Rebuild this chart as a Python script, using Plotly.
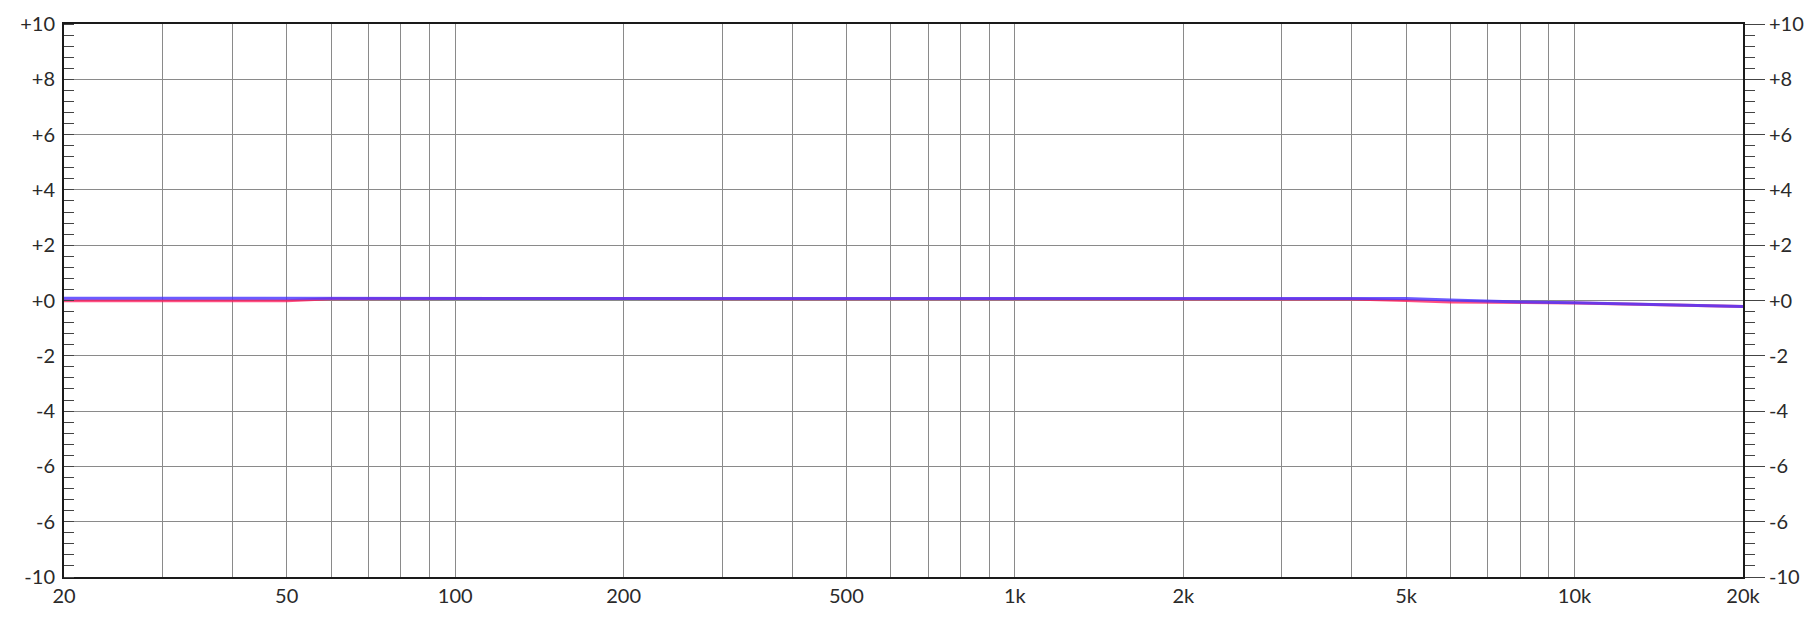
"""
Frequency response overlay: two measured channels on a log-frequency axis, +/-10 dB.
"""
import plotly.graph_objects as go

# --- data ---
freq_hz = [20, 30, 40, 50, 60, 70, 100, 200, 500, 1000, 2000, 4000, 5000, 6000, 7000, 8000, 10000, 15000, 20000]
red_db = [-0.01, -0.01, -0.01, -0.01, 0.06, 0.07, 0.07, 0.07, 0.07, 0.07, 0.07, 0.05, 0.0, -0.05, -0.06, -0.07, -0.09, -0.16, -0.22]
blue_db = [0.08, 0.08, 0.08, 0.08, 0.08, 0.08, 0.08, 0.08, 0.08, 0.08, 0.08, 0.08, 0.07, 0.02, -0.02, -0.05, -0.08, -0.16, -0.22]

grid_freqs = [20, 30, 40, 50, 60, 70, 80, 90, 100, 200, 300, 400, 500, 600, 700, 800, 900,
              1000, 2000, 3000, 4000, 5000, 6000, 7000, 8000, 9000, 10000, 20000]
freq_labels = {20: "20", 50: "50", 100: "100", 200: "200", 500: "500", 1000: "1k",
               2000: "2k", 5000: "5k", 10000: "10k", 20000: "20k"}

db_ticks = [10, 8, 6, 4, 2, 0, -2, -4, -6, -8, -10]
db_labels = ["+10", "+8", "+6", "+4", "+2", "+0", "-2", "-4", "-6", "-6", "-10"]

FONT = dict(family="Source Sans Pro, Lato, sans-serif", size=20, color="#2a2a2a")
GRID = "#8a8a8a"
AXIS = "#1a1a1a"

fig = go.Figure()
fig.add_trace(go.Scatter(x=freq_hz, y=red_db, mode="lines",
                         line=dict(color="rgba(255,20,90,0.75)", width=3), hoverinfo="skip"))
fig.add_trace(go.Scatter(x=freq_hz, y=blue_db, mode="lines",
                         line=dict(color="rgba(70,50,255,0.8)", width=3), hoverinfo="skip"))
# invisible trace so the right-hand axis is drawn
fig.add_trace(go.Scatter(x=[20, 20000], y=[0, 0], yaxis="y2", mode="lines",
                         line=dict(width=0), hoverinfo="skip", showlegend=False))

yaxis_common = dict(
    range=[-10, 10],
    tickvals=db_ticks,
    ticktext=db_labels,
    tickfont=FONT,
    showline=True,
    linecolor=AXIS,
    linewidth=2,
    zeroline=False,
    fixedrange=True,
    automargin=False,
)

fig.update_layout(
    width=1817,
    height=621,
    paper_bgcolor="white",
    plot_bgcolor="white",
    showlegend=False,
    margin=dict(l=64, r=74, t=24, b=44, autoexpand=False),
    xaxis=dict(
        type="log",
        range=[1.30103, 4.30103],
        tickvals=grid_freqs,
        ticktext=[freq_labels.get(f, "") for f in grid_freqs],
        tickfont=FONT,
        showgrid=True,
        gridcolor=GRID,
        gridwidth=1,
        showline=True,
        linecolor=AXIS,
        linewidth=2,
        mirror=True,
        ticks="",
        ticklabelstandoff=0,
        zeroline=False,
        automargin=False,
    ),
    yaxis=dict(
        **yaxis_common,
        side="left",
        showgrid=True,
        gridcolor=GRID,
        gridwidth=1,
        ticks="",
        ticklabelstandoff=3,
        minor=dict(dtick=0.4, ticks="inside", ticklen=10, tickcolor="#444444", tickwidth=1, showgrid=False),
    ),
    yaxis2=dict(
        **yaxis_common,
        side="right",
        overlaying="y",
        showgrid=False,
        ticks="outside",
        ticklen=20,
        tickcolor="#444444",
        tickwidth=1,
        minor=dict(dtick=0.4, ticks="outside", ticklen=10, tickcolor="#444444", tickwidth=1, showgrid=False),
    ),
)

# drop the browser's default 8px body margin so the plot sits where the reference does
fig.write_html(
    "out.html",
    config={"displayModeBar": False},
    post_script="document.body.style.margin = '0';",
)
